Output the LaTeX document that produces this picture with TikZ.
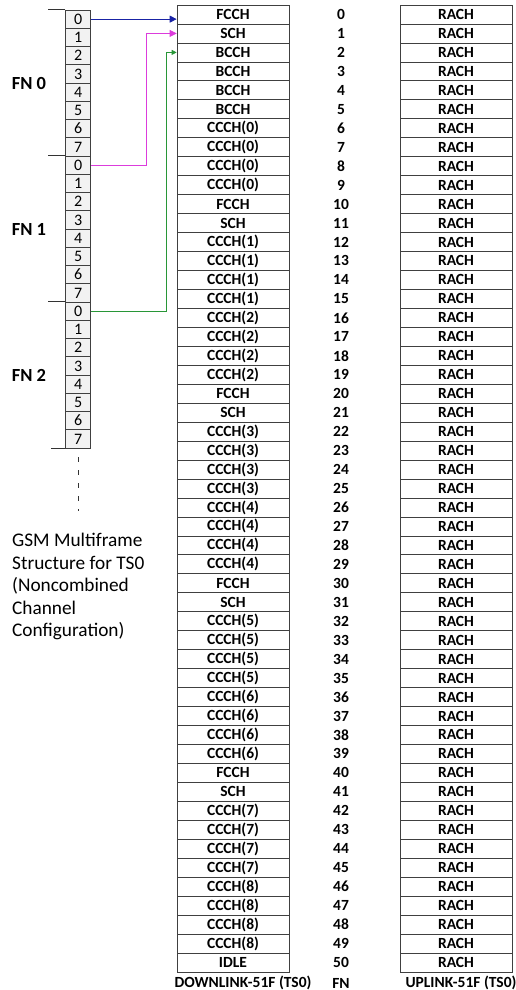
\documentclass[tikz,border=0pt]{standalone}
\usepackage{fontspec}
\setmainfont{Carlito}
\usetikzlibrary{arrows.meta, calc}
\definecolor{fnblue}{RGB}{25,35,165}
\definecolor{fnpink}{RGB}{220,60,220}
\definecolor{fngreen}{RGB}{40,150,55}

\tikzset{
  chcell/.style={draw=black!75, line width=0.7pt, minimum width=112pt,
    minimum height=18.96pt, inner sep=0pt,
    font=\fontsize{15.5}{16}\selectfont\bfseries},
  fnnum/.style={inner sep=0pt, font=\fontsize{15.5}{16}\selectfont\bfseries},
  tscell/.style={draw=black!75, line width=0.7pt, fill=black!5,
    minimum width=25pt, minimum height=18.25pt, inner sep=0pt,
    font=\fontsize{16}{16}\selectfont},
  grouplbl/.style={inner sep=0pt, font=\fontsize{18.5}{19}\selectfont\bfseries},
  tick/.style={draw=black!80, line width=0.7pt}
}

\begin{document}
\begin{tikzpicture}[x=1pt, y=-1pt]
\useasboundingbox (0,0) rectangle (515,990);

% downlink, FN and uplink columns
\foreach \lbl [count=\i from 0] in {FCCH,SCH,BCCH,BCCH,BCCH,BCCH,
    CCCH(0),CCCH(0),CCCH(0),CCCH(0),FCCH,SCH,
    CCCH(1),CCCH(1),CCCH(1),CCCH(1),CCCH(2),CCCH(2),CCCH(2),CCCH(2),FCCH,SCH,
    CCCH(3),CCCH(3),CCCH(3),CCCH(3),CCCH(4),CCCH(4),CCCH(4),CCCH(4),FCCH,SCH,
    CCCH(5),CCCH(5),CCCH(5),CCCH(5),CCCH(6),CCCH(6),CCCH(6),CCCH(6),FCCH,SCH,
    CCCH(7),CCCH(7),CCCH(7),CCCH(7),CCCH(8),CCCH(8),CCCH(8),CCCH(8),IDLE}{
  \node[chcell] (dl\i) at (233,{14.48+18.96*\i}) {\lbl};
  \node[fnnum] (fn\i) at (341,{14.48+18.96*\i}) {\i};
  \node[chcell] (ul\i) at (456,{14.48+18.96*\i}) {RACH};
}

\node[fnnum] (dllbl) at (243,983) {DOWNLINK-51F (TS0)};
\node[fnnum] (fnlbl) at (341,983) {FN};
\node[fnnum] (ullbl) at (461,983) {UPLINK-51F (TS0)};

% timeslots of the TDMA frames
\foreach \g in {0,1,2}{
  \foreach \k in {0,...,7}{
    \node[tscell] (ts\g-\k) at (78.2,{10+18.25*(8*\g+\k+0.5)}) {\k};
  }
  \node[grouplbl] (fn-\g) at (29,{10+146*\g+73}) {FN \g};
  \draw[tick] (ts\g-0.north west) -- ++(-17,0);
}
\draw[tick] (ts2-7.south west) -- ++(-14,0);
\draw[black!80, line width=0.8pt, dash pattern=on 5pt off 8pt]
  ([yshift=-9pt]ts2-7.south) -- ++(0,54);

% mapping arrows
\draw[fnblue, line width=0.8pt, -{Triangle[length=7pt,width=7pt]}]
  (ts0-0.east) -- (ts0-0.east -| dl0.west);
\draw[fnpink, line width=0.8pt, -{Triangle[length=7pt,width=7pt]}]
  (ts1-0.east) -- ++(55,0) |- (dl1.west);
\draw[fngreen, line width=0.8pt, -{Triangle[length=5pt,width=5pt]}]
  (ts2-0.east) -- ++(75,0) |- (dl2.west);

\node[align=left, anchor=north west, inner sep=0pt,
  font=\fontsize{19.3}{22.5}\selectfont] (note) at (12,533)
  {GSM Multiframe\\Structure for TS0\\(Noncombined\\Channel\\Configuration)};
\end{tikzpicture}
\end{document}
